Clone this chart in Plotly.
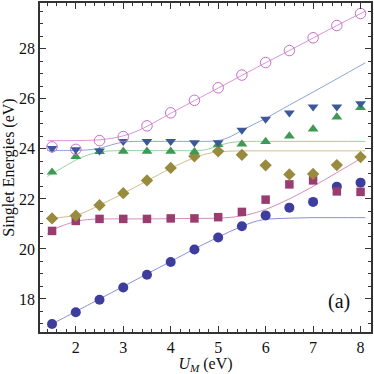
import plotly.graph_objects as go

u_pts = [1.5, 2.0, 2.5, 3.0, 3.5, 4.0, 4.5, 5.0, 5.5, 6.0, 6.5, 7.0, 7.5, 8.0]

# ED singlet energies (markers)
e_circle = [17.0, 17.47, 17.97, 18.46, 18.97, 19.48, 19.98, 20.46, 20.91, 21.34, 21.65, 21.88, 22.49, 22.65]
e_square = [20.72, 21.12, 21.2, 21.2, 21.2, 21.22, 21.22, 21.27, 21.48, 21.97, 22.58, 22.74, 22.3, 22.28]
e_diamond = [21.22, 21.33, 21.75, 22.23, 22.74, 23.24, 23.7, 23.9, 23.76, 23.34, 22.98, 23.0, 23.35, 23.67]
e_tri_up = [23.07, 23.69, 23.89, 23.9, 23.9, 23.9, 23.88, 24.17, 24.19, 24.29, 24.51, 24.79, 25.27, 25.65]
e_tri_down = [24.02, 23.97, 23.92, 24.3, 24.3, 24.3, 24.25, 24.25, 24.75, 25.19, 25.44, 25.68, 25.68, 25.81]
e_open = [24.08, 23.98, 24.33, 24.49, 24.92, 25.44, 25.94, 26.44, 26.95, 27.45, 27.93, 28.44, 28.93, 29.41]

# model curves (lines)
u_line = [1.4, 1.5, 2.0, 2.25, 2.5, 2.75, 3.0, 3.25, 3.5, 4.0, 4.5, 4.75, 5.0, 5.25, 5.5, 5.75, 6.0, 6.5, 7.0, 7.5, 8.1]
c1 = [16.9, 17.0, 17.5, 17.75, 18.0, 18.25, 18.5, 18.75, 19.0, 19.5, 20.0, 20.24, 20.47, 20.7, 20.9, 21.08, 21.18, 21.23, 21.25, 21.25, 21.25]
c2 = [20.6, 20.75, 21.1, 21.17, 21.2, 21.2, 21.2, 21.2, 21.2, 21.21, 21.22, 21.22, 21.23, 21.26, 21.32, 21.43, 21.58, 22.0, 22.5, 23.05, 23.72]
c3 = [21.2, 21.22, 21.35, 21.52, 21.75, 21.98, 22.22, 22.47, 22.72, 23.22, 23.65, 23.8, 23.88, 23.91, 23.92, 23.92, 23.92, 23.92, 23.92, 23.92, 23.92]
c4 = [22.9, 23.0, 23.55, 23.75, 23.88, 23.92, 23.93, 23.93, 23.93, 23.93, 23.93, 23.97, 24.12, 24.25, 24.29, 24.3, 24.3, 24.3, 24.3, 24.3, 24.3]
c5 = [23.94, 23.94, 23.94, 23.96, 24.02, 24.16, 24.27, 24.3, 24.3, 24.3, 24.3, 24.3, 24.33, 24.48, 24.74, 24.98, 25.22, 25.75, 26.27, 26.8, 27.44]
c6 = [24.33, 24.33, 24.33, 24.34, 24.36, 24.42, 24.52, 24.68, 24.9, 25.42, 25.93, 26.18, 26.43, 26.68, 26.94, 27.19, 27.44, 27.93, 28.43, 28.93, 29.5]

SERIF = 'Liberation Serif, Times New Roman, DejaVu Serif, serif'

fig = go.Figure()

lines = [(c1, '#8c8cd8'), (c2, '#d68cbc'), (c3, '#cfc08c'), (c4, '#94d4a0'), (c5, '#8ca4dc'), (c6, '#d894d8')]
for ys, col in lines:
    fig.add_trace(go.Scatter(x=u_line, y=ys, mode='lines', line=dict(color=col, width=1, shape='spline'),
                             hoverinfo='skip'))

markers = [
    (e_circle, 'circle', '#3d3d9e', 10),
    (e_square, 'square', '#993d71', 8.5),
    (e_diamond, 'diamond', '#998b3d', 9.5),
    (e_tri_up, 'triangle-up', '#3d9954', 9.5),
    (e_tri_down, 'triangle-down', '#3d5899', 9.5),
]
for ys, sym, col, sz in markers:
    fig.add_trace(go.Scatter(x=u_pts, y=ys, mode='markers',
                             marker=dict(symbol=sym, color=col, size=sz, line=dict(width=0))))

fig.add_trace(go.Scatter(x=u_pts, y=e_open, mode='markers',
                         marker=dict(symbol='circle-open', color='#c470c4', size=10.5, line=dict(width=1))))

axis_common = dict(
    showgrid=False, zeroline=False, showline=True, linecolor='#333333', linewidth=1.5,
    mirror='allticks', ticks='inside', ticklen=6, tickcolor='#333333', tickwidth=1,
    tickfont=dict(family=SERIF, size=16, color='#111111'),
)

fig.update_xaxes(range=[1.246, 8.22], dtick=1, tick0=0,
                 minor=dict(dtick=0.2, ticks='inside', ticklen=3, tickcolor='#333333'),
                 title=dict(text='<i>U<sub>M</sub></i> (eV)', standoff=2,
                            font=dict(family=SERIF, size=16, color='#111111')),
                 **axis_common)
fig.update_yaxes(range=[16.68, 29.83], dtick=2, tick0=0,
                 minor=dict(dtick=0.5, ticks='inside', ticklen=3, tickcolor='#333333'),
                 title=dict(text='Singlet Energies (eV)', standoff=1,
                            font=dict(family=SERIF, size=16, color='#111111')),
                 **axis_common)

fig.add_annotation(x=7.55, y=17.9, text='(a)', showarrow=False,
                   font=dict(family=SERIF, size=20, color='#111111'))

fig.update_layout(
    width=374, height=374,
    showlegend=False,
    plot_bgcolor='white', paper_bgcolor='white',
    margin=dict(l=40, r=3, t=1, b=42),
)

fig.write_html("out.html", config={'displayModeBar': False},
               post_script="document.body.style.margin='0';")
